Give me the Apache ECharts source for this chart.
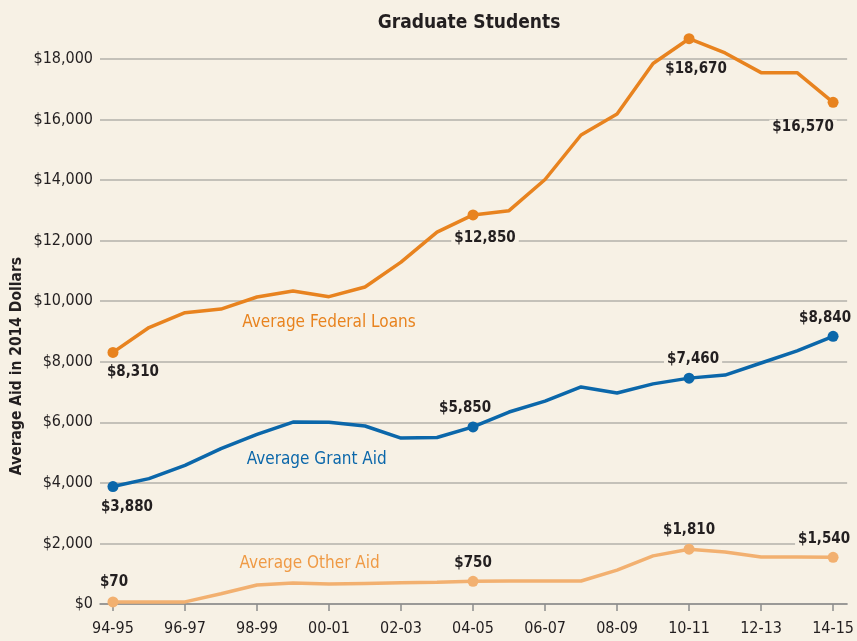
<!DOCTYPE html>
<html>
<head>
<meta charset="utf-8">
<title>Graduate Students</title>
<script src="https://cdn.jsdelivr.net/npm/echarts@6.0.0/dist/echarts.min.js"></script>
<style>
  html, body { margin: 0; padding: 0; background: #f7f1e5; }
  #chart { width: 857px; height: 641px; }
</style>
</head>
<body>
<div id="chart"></div>
<script>
  // --- Data ---
  const years = ['94-95', '95-96', '96-97', '97-98', '98-99', '99-00', '00-01', '01-02', '02-03', '03-04',
    '04-05', '05-06', '06-07', '07-08', '08-09', '09-10', '10-11', '11-12', '12-13', '13-14', '14-15'];

  const federalLoans = [8310, 9130, 9620, 9740, 10140, 10340, 10150, 10470, 11290, 12280,
    12850, 12990, 14020, 15490, 16180, 17850, 18670, 18200, 17550, 17550, 16570];
  const grantAid = [3880, 4140, 4580, 5130, 5600, 6010, 6000, 5880, 5480, 5500,
    5850, 6340, 6700, 7170, 6970, 7270, 7460, 7560, 7960, 8360, 8840];
  const otherAid = [70, 70, 70, 340, 630, 690, 660, 680, 700, 720,
    750, 760, 760, 760, 1120, 1590, 1810, 1720, 1550, 1550, 1540];

  // indexes that get a dot and a value label
  const loanMarks = [0, 10, 16, 20];
  const grantMarks = [0, 10, 16, 20];
  const otherMarks = [0, 10, 16, 20];

  const FONT = '"Liberation Sans Narrow", "DejaVu Sans Condensed", "Roboto Condensed", Arial, sans-serif';
  const BG = '#f7f1e5';
  const INK = '#231f20';

  // label offsets per marked point, in pixels
  const loanOffsets = { 0: [20, 20], 10: [12, 23], 16: [7, 30], 20: [-30, 25] };
  const grantOffsets = { 0: [14, 21], 10: [-8, -19], 16: [4, -19], 20: [-8, -18] };
  const otherOffsets = { 0: [1, -20], 10: [0, -18], 16: [0, -19], 20: [-9, -18] };

  function money(v) {
    return '$' + v.toLocaleString('en-US');
  }

  function buildData(values, marks, offsets) {
    return values.map(function (v, i) {
      if (marks.indexOf(i) < 0) {
        return { value: [i, v], symbol: 'none' };
      }
      return {
        value: [i, v],
        symbol: 'circle',
        symbolSize: 11,
        label: {
          show: true,
          position: 'inside',
          offset: offsets[i],
          formatter: money(v),
          fontFamily: FONT,
          fontSize: 15,
          fontWeight: 'bold',
          color: INK,
          backgroundColor: BG,
          padding: [0, 3]
        }
      };
    });
  }

  function seriesName(text, x, y, color) {
    return {
      coord: [x, y],
      symbol: 'rect',
      symbolSize: 1,
      itemStyle: { color: 'rgba(0,0,0,0)' },
      label: {
        show: true,
        position: 'inside',
        formatter: text,
        fontFamily: FONT,
        fontSize: 17,
        color: color
      }
    };
  }

  function makeSeries(name, values, marks, offsets, color, nameLabel) {
    return {
      name: name,
      type: 'line',
      data: buildData(values, marks, offsets),
      symbol: 'circle',
      clip: false,
      lineStyle: { color: color, width: 3.5 },
      itemStyle: { color: color },
      emphasis: { disabled: true },
      z: 3,
      markPoint: {
        silent: true,
        data: [nameLabel]
      }
    };
  }

  const chart = echarts.init(document.getElementById('chart'), null, { renderer: 'canvas' });

  const tickIdx = years.map(function (_, i) { return i; }).filter(function (i) { return i % 2 === 0; });

  const option = {
    backgroundColor: BG,
    animation: false,
    title: {
      text: 'Graduate Students',
      left: 464,
      top: 9,
      textAlign: 'center',
      textStyle: { fontFamily: FONT, fontSize: 19, fontWeight: 'bold', color: INK }
    },
    graphic: [{
      type: 'text',
      x: 17,
      y: 366,
      rotation: Math.PI / 2,
      style: {
        text: 'Average Aid in 2014 Dollars',
        fontFamily: FONT,
        fontSize: 15.5,
        fontWeight: 'bold',
        fill: INK,
        textAlign: 'center',
        textVerticalAlign: 'middle'
      }
    }],
    grid: { left: 100, right: 5, top: 59, bottom: 37 },
    xAxis: {
      type: 'value',
      min: -0.36,
      max: 20.39,
      splitLine: { show: false },
      axisLine: { show: true, lineStyle: { color: '#8c8c8c', width: 1.5 } },
      axisTick: {
        show: true,
        length: 7,
        customValues: tickIdx,
        lineStyle: { color: '#8c8c8c', width: 1.5 }
      },
      axisLabel: {
        customValues: tickIdx,
        formatter: function (v) { return years[Math.round(v)]; },
        margin: 17,
        fontFamily: FONT,
        fontSize: 16,
        color: INK
      }
    },
    yAxis: {
      type: 'value',
      min: 0,
      max: 18000,
      interval: 2000,
      axisLine: { show: false },
      axisTick: { show: false },
      splitLine: { lineStyle: { color: '#b3b0aa', width: 1.5 } },
      axisLabel: {
        formatter: money,
        margin: 7,
        fontFamily: FONT,
        fontSize: 16,
        color: INK
      }
    },
    series: [
      makeSeries('Average Federal Loans', federalLoans, loanMarks, loanOffsets, '#e8831f',
        seriesName('Average Federal Loans', 6.0, 9310, '#e8831f')),
      makeSeries('Average Grant Aid', grantAid, grantMarks, grantOffsets, '#0b67aa',
        seriesName('Average Grant Aid', 5.66, 4760, '#0b67aa')),
      makeSeries('Average Other Aid', otherAid, otherMarks, otherOffsets, '#f2b070',
        seriesName('Average Other Aid', 5.46, 1320, '#ef9a45'))
    ]
  };

  chart.setOption(option);
</script>
</body>
</html>
